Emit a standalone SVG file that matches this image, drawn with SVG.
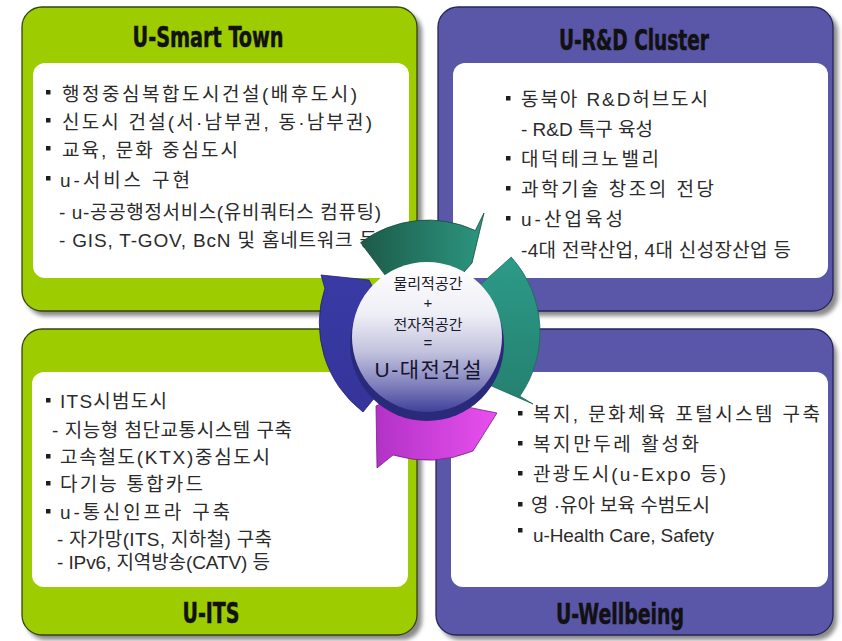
<svg xmlns="http://www.w3.org/2000/svg" width="842" height="641" viewBox="0 0 842 641">
  <defs>
    <filter id="blur" x="-10%" y="-10%" width="120%" height="120%">
      <feGaussianBlur stdDeviation="2"/>
    </filter>
    <linearGradient id="gGreenArrow" x1="0" y1="0" x2="1" y2="0">
      <stop offset="0" stop-color="#1c5a48"/>
      <stop offset="1" stop-color="#2c9680"/>
    </linearGradient>
    <linearGradient id="gTealArrow" x1="0" y1="0" x2="0" y2="1">
      <stop offset="0" stop-color="#2d9a88"/>
      <stop offset="1" stop-color="#24806f"/>
    </linearGradient>
    <linearGradient id="gMagArrow" x1="0" y1="0" x2="1" y2="0">
      <stop offset="0" stop-color="#b232c6"/>
      <stop offset="1" stop-color="#e850ee"/>
    </linearGradient>
    <linearGradient id="gBlueArrow" x1="0" y1="0" x2="0" y2="1">
      <stop offset="0" stop-color="#3a3aa6"/>
      <stop offset="1" stop-color="#34349a"/>
    </linearGradient>
    <linearGradient id="gDisk" x1="0" y1="0" x2="0" y2="1">
      <stop offset="0" stop-color="#ffffff"/>
      <stop offset="0.35" stop-color="#eeeef6"/>
      <stop offset="0.6" stop-color="#c2c2de"/>
      <stop offset="0.82" stop-color="#8080bc"/>
      <stop offset="1" stop-color="#40409c"/>
    </linearGradient>
  </defs>
  <style>
    .green { fill: #9dcc00; stroke: #34450e; stroke-width: 1.3; }
    .purple { fill: #5a56a8; stroke: #26245e; stroke-width: 1.3; }
    .shadow { fill: #8a8a8a; filter: url(#blur); }
    .inner { fill: #ffffff; }
    .title { font-family: "DejaVu Sans Condensed", "DejaVu Sans", sans-serif; font-weight: bold; font-size: 28px; fill: #111111; stroke: #111111; stroke-width: 0.5; text-anchor: middle; }
    .t { font-family: "Liberation Sans", "Noto Sans CJK KR", sans-serif; font-size: 19px; fill: #2b2b2b; }
    .b { fill: #1e1e1e; }
    .c { font-family: "Liberation Sans", "Noto Sans CJK KR", sans-serif; font-size: 15px; fill: #1a1a2a; text-anchor: middle; }
    .cbig { font-family: "Liberation Sans", "Noto Sans CJK KR", sans-serif; font-size: 21px; fill: #14142e; text-anchor: middle; }
    .arrow { stroke-width: 0.8; }
  </style>

  <!-- U-Smart Town -->
  <g id="u-smart-town">
    <rect class="shadow" x="26" y="12" width="396" height="304" rx="20"/>
    <rect class="green" x="22" y="7" width="395" height="304" rx="20"/>
    <rect class="inner" x="33" y="63" width="376" height="215" rx="12"/>
    <text class="title" x="208" y="47" textLength="151" lengthAdjust="spacingAndGlyphs">U-Smart Town</text>
    <rect class="b" x="46" y="90" width="4.5" height="4.5"/>
    <rect class="b" x="46" y="118" width="4.5" height="4.5"/>
    <rect class="b" x="46" y="146" width="4.5" height="4.5"/>
    <rect class="b" x="46" y="176" width="4.5" height="4.5"/>
    <text class="t" x="62" y="101" textLength="295">행정중심복합도시건설(배후도시)</text>
    <text class="t" x="62" y="129" textLength="310">신도시 건설(서·남부권, 동·남부권)</text>
    <text class="t" x="62" y="157" textLength="176">교육, 문화 중심도시</text>
    <text class="t" x="60" y="187" textLength="130">u-서비스 구현</text>
    <text class="t" x="59" y="219" textLength="322">- u-공공행정서비스(유비쿼터스 컴퓨팅)</text>
    <text class="t" x="59" y="247" textLength="318">- GIS, T-GOV, BcN 및 홈네트워크 등</text>
  </g>

  <!-- U-R&D Cluster -->
  <g id="u-rd-cluster">
    <rect class="shadow" x="442" y="12" width="396" height="304" rx="20"/>
    <rect class="purple" x="438" y="7" width="395" height="304" rx="20"/>
    <rect class="inner" x="453" y="63" width="375" height="215" rx="12"/>
    <text class="title" x="634" y="50" textLength="150" lengthAdjust="spacingAndGlyphs">U-R&amp;D Cluster</text>
    <rect class="b" x="506" y="96" width="4.5" height="4.5"/>
    <rect class="b" x="506" y="156" width="4.5" height="4.5"/>
    <rect class="b" x="506" y="186" width="4.5" height="4.5"/>
    <rect class="b" x="506" y="216" width="4.5" height="4.5"/>
    <text class="t" x="521" y="106" textLength="187">동북아 R&amp;D허브도시</text>
    <text class="t" x="521" y="136" textLength="132">- R&amp;D 특구 육성</text>
    <text class="t" x="521" y="166" textLength="138">대덕테크노밸리</text>
    <text class="t" x="521" y="196" textLength="193">과학기술 창조의 전당</text>
    <text class="t" x="521" y="226" textLength="102">u-산업육성</text>
    <text class="t" x="521" y="257" textLength="270">-4대 전략산업, 4대 신성장산업 등</text>
  </g>

  <!-- U-ITS -->
  <g id="u-its">
    <rect class="shadow" x="26" y="335" width="396" height="305" rx="20"/>
    <rect class="green" x="22" y="329" width="395" height="306" rx="20"/>
    <rect class="inner" x="32" y="372" width="376" height="215" rx="12"/>
    <text class="title" x="211" y="623" textLength="57" lengthAdjust="spacingAndGlyphs">U-ITS</text>
    <rect class="b" x="46" y="398" width="4.5" height="4.5"/>
    <rect class="b" x="46" y="454" width="4.5" height="4.5"/>
    <rect class="b" x="46" y="481" width="4.5" height="4.5"/>
    <rect class="b" x="46" y="509" width="4.5" height="4.5"/>
    <text class="t" x="60" y="408" textLength="107">ITS시범도시</text>
    <text class="t" x="52" y="437" textLength="240">- 지능형 첨단교통시스템 구축</text>
    <text class="t" x="60" y="464" textLength="210">고속철도(KTX)중심도시</text>
    <text class="t" x="60" y="491" textLength="143">다기능 통합카드</text>
    <text class="t" x="60" y="519" textLength="170">u-통신인프라 구축</text>
    <text class="t" x="57" y="546" textLength="215">- 자가망(ITS, 지하철) 구축</text>
    <text class="t" x="57" y="569" textLength="213">- IPv6, 지역방송(CATV) 등</text>
  </g>

  <!-- U-Wellbeing -->
  <g id="u-wellbeing">
    <rect class="shadow" x="440" y="335" width="397" height="305" rx="20"/>
    <rect class="purple" x="436" y="329" width="397" height="306" rx="20"/>
    <rect class="inner" x="451" y="372" width="377" height="215" rx="12"/>
    <text class="title" x="620" y="624" textLength="128" lengthAdjust="spacingAndGlyphs">U-Wellbeing</text>
    <rect class="b" x="518" y="411" width="4.5" height="4.5"/>
    <rect class="b" x="518" y="441" width="4.5" height="4.5"/>
    <rect class="b" x="518" y="471" width="4.5" height="4.5"/>
    <rect class="b" x="518" y="502" width="4.5" height="4.5"/>
    <rect class="b" x="518" y="528" width="4.5" height="4.5"/>
    <text class="t" x="533" y="421" textLength="287">복지, 문화체육 포털시스템 구축</text>
    <text class="t" x="533" y="451" textLength="166">복지만두레 활성화</text>
    <text class="t" x="533" y="481" textLength="193">관광도시(u-Expo 등)</text>
    <text class="t" x="531" y="512" textLength="179">영 ·유아 보육 수범도시</text>
    <text class="t" x="533" y="542" textLength="181">u-Health Care, Safety</text>
  </g>

  <!-- circular arrows -->
  <g id="connectors">
    <path class="arrow" fill="url(#gMagArrow)" stroke="#7a1c88" d="M497,413 L473,451 A120,120 0 0 1 393,455 L377,468 L376,406 L388,400 Q440,400 497,413 Z"/>
    <path class="arrow" fill="url(#gBlueArrow)" stroke="#22226e" d="M363,412 A112,112 0 0 1 324.9,288.2 L321,275 L369,280 L386.6,314.4 L367.2,306.2 A66,66 0 0 0 386.5,383.3 Z"/>
    <path class="arrow" fill="url(#gTealArrow)" stroke="#1c6a5c" d="M511.2,257.1 A112,112 0 0 1 519.8,396.2 L533,404 L485.8,383.5 L464.9,357.8 L482.1,369.9 A66,66 0 0 0 477,287.8 Z"/>
    <path class="arrow" fill="url(#gGreenArrow)" stroke="#174a3c" d="M360.6,242.6 A112,112 0 0 1 475.3,230.5 L484,213 L472,263 L447,291.2 L455.9,272.2 A66,66 0 0 0 388.3,279.3 Z"/>
  </g>

  <!-- center disk -->
  <g id="center">
    <circle cx="427" cy="344" r="77" fill="#2a2a7a"/>
    <circle cx="427" cy="337" r="75" fill="url(#gDisk)"/>
    <text class="c" x="428" y="289">물리적공간</text>
    <text class="c" x="428" y="308">+</text>
    <text class="c" x="428" y="330">전자적공간</text>
    <text class="c" x="428" y="348">=</text>
    <text class="cbig" x="428" y="377" textLength="107">U-대전건설</text>
  </g>
</svg>
